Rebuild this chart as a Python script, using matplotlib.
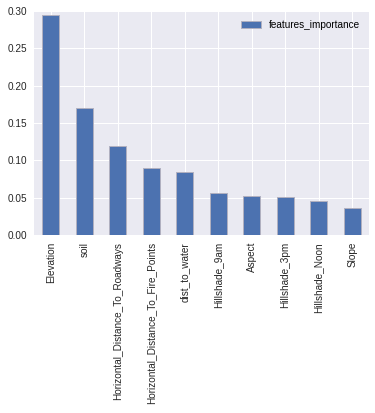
import matplotlib
matplotlib.use("Agg")
import matplotlib.pyplot as plt
import numpy as np

features = ["Elevation", "soil", "Horizontal_Distance_To_Roadways",
            "Horizontal_Distance_To_Fire_Points", "dist_to_water", "Hillshade_9am",
            "Aspect", "Hillshade_3pm", "Hillshade_Noon", "Slope"]
importance = [0.295, 0.170, 0.119, 0.090, 0.084, 0.056, 0.052, 0.051, 0.045, 0.036]
series_name = "features_importance"
yticks = [0.00, 0.05, 0.10, 0.15, 0.20, 0.25, 0.30]

plt.rcParams['font.family'] = ['Liberation Sans', 'DejaVu Sans']
fig = plt.figure(figsize=(375/72, 413/72), dpi=72)
ax = fig.add_axes([0.0907, 0.431, 0.893, 0.542])
ax.set_facecolor('#EAEAF2')
x = np.arange(len(features))
ax.bar(x, importance, width=0.5, color='#4C72B0', edgecolor='#B0B0C0', linewidth=1,
       label=series_name, zorder=3)
ax.set_xlim(-0.5, len(features) - 0.5)
ax.set_ylim(0, 0.30)
ax.set_yticks(yticks)
ax.set_yticklabels([f"{v:.2f}" for v in yticks])
ax.set_xticks(x)
ax.set_xticklabels(features, rotation=90)
ax.grid(True, color='white', linewidth=1, zorder=0)
for s in ax.spines.values():
    s.set_visible(False)
ax.tick_params(length=0, labelsize=10, colors='#262626', pad=7)
leg = ax.legend(loc='upper right', frameon=False, fontsize=10)
fig.savefig("out.png", dpi=72)
